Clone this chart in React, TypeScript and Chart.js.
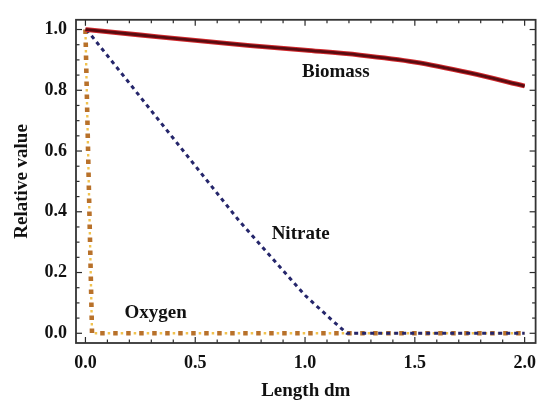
import React, { useEffect, useRef } from "react";
import { Chart, registerables } from "chart.js";

Chart.register(...registerables);

// ---- data ----
const biomassX = [0, 0.25, 0.5, 0.75, 1.0, 1.25, 1.5, 1.75, 2.0];
const biomassY = [1.0, 0.982, 0.964, 0.947, 0.932, 0.916, 0.893, 0.857, 0.814];

const nitrateX = [0.005, 0.4, 0.7, 1.0, 1.12, 1.19, 2.0];
const nitrateY = [1.0, 0.642, 0.37, 0.125, 0.045, 0.0, 0.0];

const oxygenX = [0.0, 0.03, 2.0];
const oxygenY = [1.0, 0.0, 0.0];

const xTicks = [0, 0.5, 1.0, 1.5, 2.0];
const yTicks = [0, 0.2, 0.4, 0.6, 0.8, 1.0];
const xMinorTicks = [0.1, 0.2, 0.3, 0.4, 0.6, 0.7, 0.8, 0.9, 1.1, 1.2, 1.3, 1.4, 1.6, 1.7, 1.8, 1.9];
const yMinorTicks = [0.05, 0.1, 0.15, 0.25, 0.3, 0.35, 0.45, 0.5, 0.55, 0.65, 0.7, 0.75, 0.85, 0.9, 0.95];

const labelTexts = ["Biomass", "Nitrate", "Oxygen"];
const labelX = [1.14, 0.98, 0.32];
const labelY = [0.86, 0.325, 0.068];

const FONT = "'Liberation Serif', 'DejaVu Serif', serif";

const toPoints = (xs: number[], ys: number[]) => xs.map((x, i) => ({ x, y: ys[i] }));

const framePlugin = {
  id: "frameTicks",
  afterDatasetsDraw(chart: any) {
    const { ctx, chartArea, scales } = chart;
    const { left, right, top, bottom } = chartArea;
    const xs = scales.x;
    const ys = scales.y;
    ctx.save();
    ctx.strokeStyle = "#2a2a2a";
    ctx.lineWidth = 1.2;
    const seg = (x1: number, y1: number, x2: number, y2: number) => {
      ctx.beginPath();
      ctx.moveTo(x1, y1);
      ctx.lineTo(x2, y2);
      ctx.stroke();
    };
    const drawX = (vals: number[], len: number) => {
      vals.forEach((v) => {
        const px = xs.getPixelForValue(v);
        seg(px, bottom, px, bottom - len);
        seg(px, top, px, top + len);
      });
    };
    const drawY = (vals: number[], len: number) => {
      vals.forEach((v) => {
        const py = ys.getPixelForValue(v);
        seg(left, py, left + len, py);
        seg(right, py, right - len, py);
      });
    };
    drawX(xTicks, 6);
    drawX(xMinorTicks, 3.5);
    drawY(yTicks, 6);
    drawY(yMinorTicks, 3.5);

    ctx.lineWidth = 1.8;
    ctx.strokeStyle = "#333";
    ctx.strokeRect(left, top, right - left, bottom - top);

    ctx.fillStyle = "#111";
    ctx.font = `bold 19px ${FONT}`;
    ctx.textAlign = "center";
    ctx.textBaseline = "middle";
    labelTexts.forEach((t, i) => {
      ctx.fillText(t, xs.getPixelForValue(labelX[i]), ys.getPixelForValue(labelY[i]));
    });
    ctx.restore();
  },
};

export default function App() {
  const ref = useRef<HTMLCanvasElement>(null);

  useEffect(() => {
    if (!ref.current) return;
    const chart = new Chart(ref.current, {
      type: "line",
      data: {
        datasets: [
          {
            label: "Biomass core",
            data: toPoints(biomassX, biomassY),
            borderColor: "#5a0b10",
            borderWidth: 2.8,
            pointRadius: 0,
            cubicInterpolationMode: "monotone",
            order: 0,
          },
          {
            label: "Biomass",
            data: toPoints(biomassX, biomassY),
            borderColor: "#d0282c",
            borderWidth: 4.8,
            pointRadius: 0,
            cubicInterpolationMode: "monotone",
            order: 1,
          },
          {
            label: "Nitrate",
            data: toPoints(nitrateX, nitrateY),
            borderColor: "#25266b",
            borderWidth: 3,
            borderDash: [4, 4],
            pointRadius: 0,
            tension: 0,
            order: 2,
          },
          {
            label: "Oxygen dots",
            data: toPoints(oxygenX, oxygenY),
            borderColor: "#b8712a",
            borderWidth: 4.6,
            borderDash: [4.5, 8.5],
            pointRadius: 0,
            tension: 0,
            order: 3,
          },
          {
            label: "Oxygen",
            data: toPoints(oxygenX, oxygenY),
            borderColor: "#f1c24e",
            borderWidth: 2.4,
            borderDash: [2.5, 10.5],
            borderDashOffset: -7.5,
            pointRadius: 0,
            tension: 0,
            order: 4,
          },
        ],
      },
      options: {
        animation: false,
        responsive: false,
        devicePixelRatio: 1,
        layout: { padding: { top: 14, right: 5, left: 0, bottom: 0 } },
        plugins: {
          legend: { display: false },
          tooltip: { enabled: false },
        },
        scales: {
          x: {
            type: "linear",
            min: -0.043,
            max: 2.05,
            grid: { display: false, drawTicks: false },
            border: { display: false },
            afterBuildTicks: (s: any) => {
              s.ticks = xTicks.map((v) => ({ value: v }));
            },
            afterFit: (s: any) => {
              s.height = 63;
            },
            ticks: {
              padding: 10,
              autoSkip: false,
              maxRotation: 0,
              color: "#111",
              font: { family: FONT, size: 18, weight: "bold" },
              callback: (v: any) => Number(v).toFixed(1),
            },
            title: {
              display: true,
              text: "Length dm",
              color: "#111",
              font: { family: FONT, size: 19, weight: "bold" },
              padding: { top: 0, bottom: 4 },
            },
          },
          y: {
            type: "linear",
            min: -0.032,
            max: 1.032,
            grid: { display: false, drawTicks: false },
            border: { display: false },
            afterBuildTicks: (s: any) => {
              s.ticks = yTicks.map((v) => ({ value: v }));
            },
            afterFit: (s: any) => {
              s.width = 76;
            },
            ticks: {
              padding: 9,
              autoSkip: false,
              color: "#111",
              font: { family: FONT, size: 18, weight: "bold" },
              callback: (v: any) => Number(v).toFixed(1),
            },
            title: {
              display: true,
              text: "Relative value",
              color: "#111",
              font: { family: FONT, size: 19, weight: "bold" },
              padding: { top: 10.6, bottom: 0 },
            },
          },
        },
      },
      plugins: [framePlugin],
    } as any);
    return () => chart.destroy();
  }, []);

  return (
    <div style={{ position: "absolute", left: 0, top: 0, width: 546, height: 406, background: "#fff" }}>
      <canvas ref={ref} width={546} height={406} style={{ display: "block", width: 546, height: 406 }} />
    </div>
  );
}
